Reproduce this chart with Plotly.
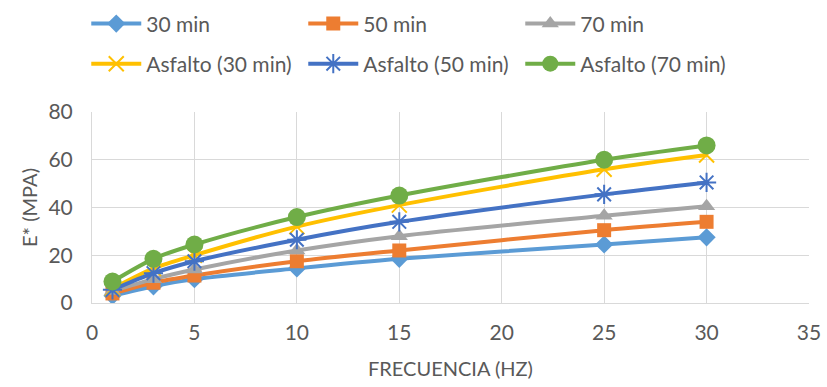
import plotly.graph_objects as go

freq = [1, 3, 5, 10, 15, 25, 30]
names = ["30 min", "50 min", "70 min", "Asfalto (30 min)", "Asfalto (50 min)", "Asfalto (70 min)"]
s30 = [3.0, 7.0, 10.0, 14.5, 18.5, 24.5, 27.5]
s50 = [4.0, 8.5, 11.5, 17.5, 22.0, 30.5, 34.0]
s70 = [5.0, 10.0, 14.0, 22.0, 28.0, 36.5, 40.5]
a30 = [6.0, 14.5, 20.0, 32.0, 41.0, 56.0, 62.0]
a50 = [5.5, 12.5, 17.5, 26.5, 34.0, 45.5, 50.5]
a70 = [9.0, 18.5, 24.5, 36.0, 45.0, 60.0, 66.0]
series = [s30, s50, s70, a30, a50, a70]

colors = ["#5B9BD5", "#ED7D31", "#A5A5A5", "#FFC000", "#4472C4", "#70AD47"]
symbols = ["diamond", "square", "triangle-up", "x-thin", "asterisk", "circle"]
sizes = [14, 14, 15, 15, 16, 18]

FONT = "Lato"
TXT = "#595959"

fig = go.Figure()
for i, (nm, ys) in enumerate(zip(names, series)):
    thin = symbols[i] in ("x-thin", "asterisk")
    fig.add_trace(go.Scatter(
        x=freq, y=ys, name=nm, mode="lines+markers",
        line=dict(color=colors[i], width=4, shape="spline", smoothing=0.8),
        marker=dict(symbol=symbols[i], size=sizes[i], color=colors[i],
                    line=dict(color=colors[i], width=2 if thin else 0)),
        legend="legend" if i < 3 else "legend2",
    ))

legend_common = dict(orientation="h", xanchor="left", yanchor="middle",
                     entrywidth=152, entrywidthmode="pixels",
                     font=dict(family=FONT, size=21, color=TXT),
                     bgcolor="rgba(0,0,0,0)", itemwidth=50)

fig.update_layout(
    width=827, height=387,
    margin=dict(l=92, r=18, t=112, b=84, autoexpand=False),
    paper_bgcolor="white", plot_bgcolor="white",
    font=dict(family=FONT, size=21, color=TXT),
    showlegend=True,
    legend=dict(x=-0.008, y=1.461, **legend_common),
    legend2=dict(x=-0.008, y=1.251, **legend_common),
    xaxis=dict(range=[0, 35], dtick=5, tick0=0, showgrid=True, gridcolor="#D9D9D9",
               gridwidth=1, showline=True, linecolor="#D9D9D9", linewidth=1,
               zeroline=False, ticks="", automargin=False, ticklabelstandoff=11,
               tickfont=dict(family=FONT, size=21, color=TXT),
               title=dict(text="FRECUENCIA (HZ)", font=dict(family=FONT, size=20, color=TXT),
                          standoff=18)),
    yaxis=dict(range=[0, 80], dtick=20, tick0=0, showgrid=True, gridcolor="#D9D9D9",
               gridwidth=1, showline=True, linecolor="#D9D9D9", linewidth=1,
               zeroline=False, ticks="", ticklabelstandoff=14, automargin=False,
               tickfont=dict(family=FONT, size=21, color=TXT),
               title=dict(text="E* (MPA)", font=dict(family=FONT, size=20, color=TXT),
                          standoff=5)),
)

fig.write_html("out.html")
